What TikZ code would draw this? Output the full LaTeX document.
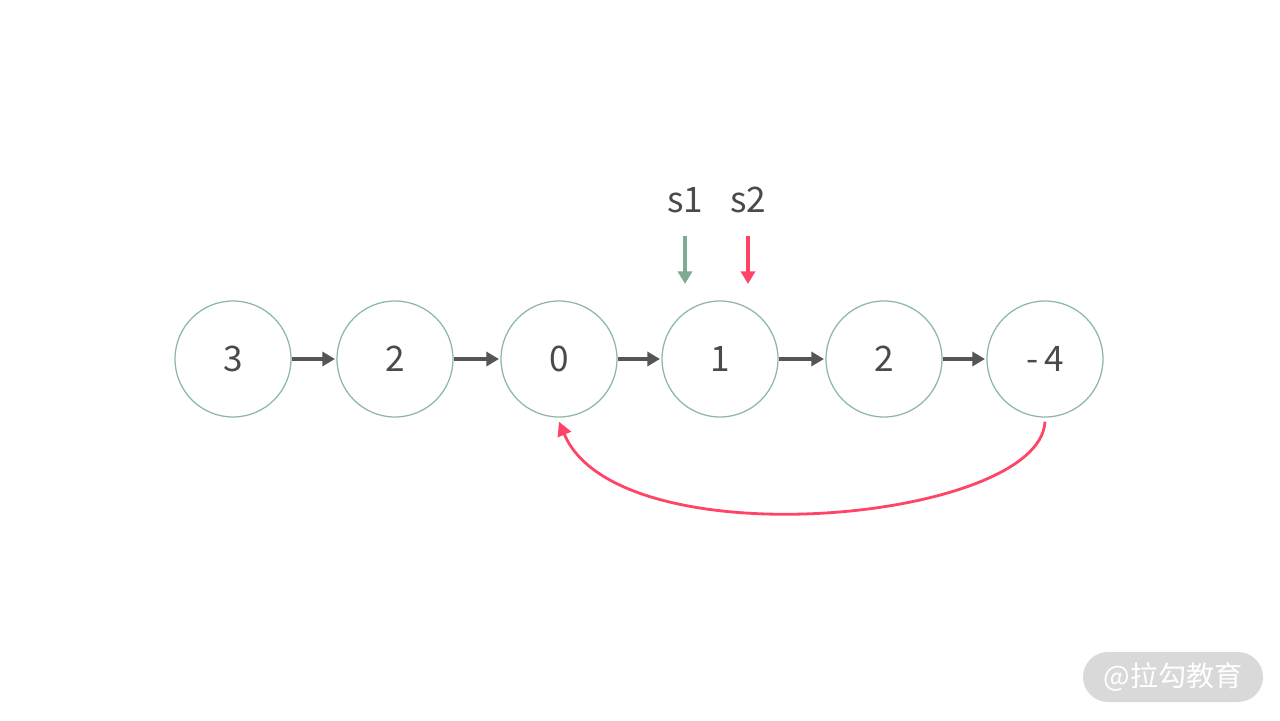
\documentclass[tikz,border=0pt]{standalone}
\usepackage{fontspec}
\setmainfont{Noto Sans CJK SC}
\usepackage{tikz}
\usetikzlibrary{positioning,arrows.meta}
\usepackage{xcolor}
\definecolor{ringc}{HTML}{8DB8A6}
\definecolor{slowc}{HTML}{7FAA94}
\definecolor{fastc}{HTML}{FF4466}
\definecolor{linkc}{HTML}{555555}
\definecolor{textc}{HTML}{4A4A4A}

\begin{document}
\begin{tikzpicture}[
  >=Triangle,
  elem/.style={draw=ringc, line width=0.9pt, circle, minimum size=2.9cm, inner sep=0pt, text=textc, font=\fontsize{25}{30}\selectfont},
  ptr/.style={text=textc, font=\fontsize{25}{30}\selectfont},
  nxt/.style={->, draw=linkc, line width=2.6pt, shorten >=1pt, arrows={-Triangle[length=9pt, width=10pt]}},
  mark1/.style={draw=slowc, line width=2.3pt, arrows={-Triangle[length=9pt, width=10pt]}},
  mark2/.style={draw=fastc, line width=2.3pt, arrows={-Triangle[length=9pt, width=10pt]}},
  back/.style={draw=fastc, line width=2pt, arrows={-Triangle[length=10pt, width=10pt]}}
]
  \useasboundingbox (0,0) rectangle (32,18);
  \node[elem] (n1) at (5.825,9.025) {3};
  \node[elem] (n2) at (9.875,9.025) {2};
  \node[elem] (n3) at (13.975,9.025) {0};
  \node[elem] (n4) at (18.0,9.025) {1};
  \node[elem] (n5) at (22.1,9.025) {2};
  \node[elem] (n6) at (26.125,9.025) {-\,4};
  \node[ptr] (s1) at (17.125,13.0) {s1};
  \node[ptr] (s2) at (18.7,13.0) {s2};
  \coordinate (s1tip) at (17.125,10.9);
  \coordinate (s2tip) at (18.7,10.9);
  \draw[nxt] (n1) -- (n2);
  \draw[nxt] (n2) -- (n3);
  \draw[nxt] (n3) -- (n4);
  \draw[nxt] (n4) -- (n5);
  \draw[nxt] (n5) -- (n6);
  \draw[mark1] ([yshift=-0.45cm]s1.south) -- (s1tip);
  \draw[mark2] ([yshift=-0.45cm]s2.south) -- (s2tip);
  \draw[back] ([yshift=-0.1cm]n6.south) .. controls +(-0.125,-2.5) and +(1.475,-3.5) .. ([yshift=-0.1cm]n3.south);
  % watermark
  \node[fill=black!15, rounded corners=0.625cm, minimum width=4.5cm, minimum height=1.25cm, text=white, font=\fontsize{20}{24}\selectfont] (mark) at (29.325,1.075) {@拉勾教育};
\end{tikzpicture}
\end{document}
